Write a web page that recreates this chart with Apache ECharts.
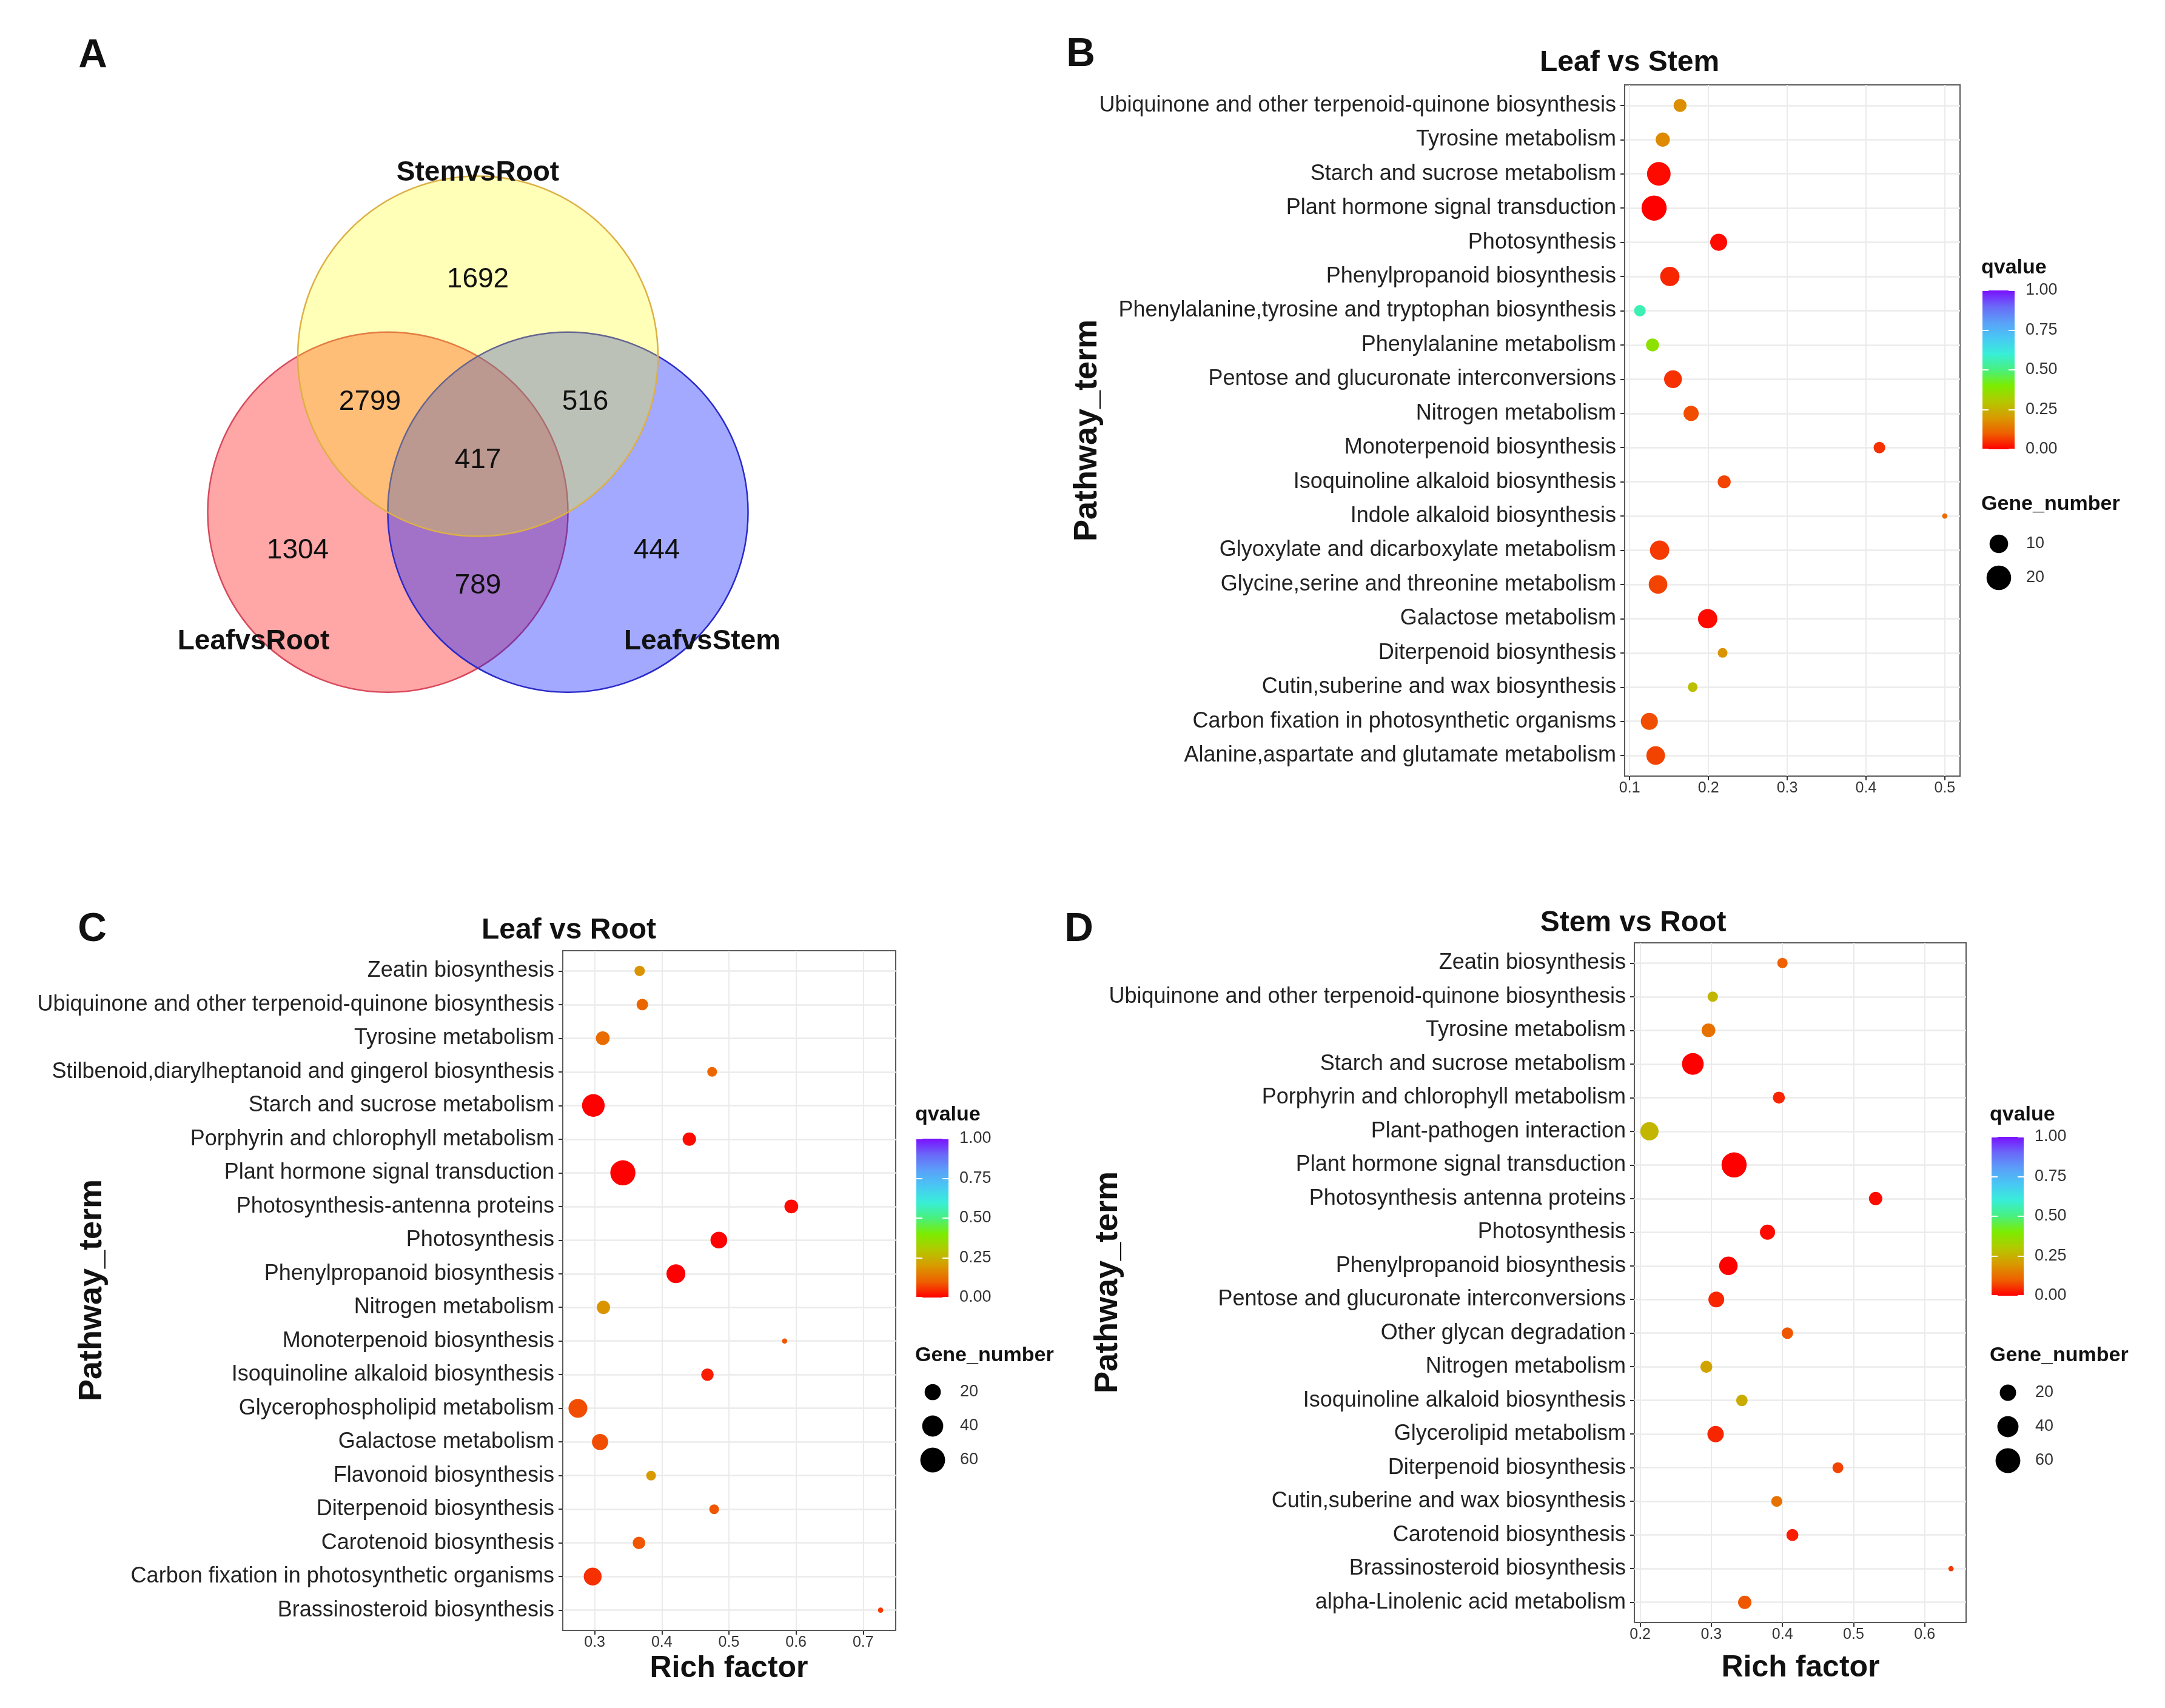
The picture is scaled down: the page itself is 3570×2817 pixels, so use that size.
<!DOCTYPE html>
<html><head><meta charset="utf-8">
<script src="https://cdn.jsdelivr.net/npm/echarts@6/dist/echarts.min.js"></script>
<style>html,body{margin:0;padding:0;background:#fff}#chart{width:3570px;height:2817px}</style>
</head><body><div id="chart"></div>
<script>
// ---------------- DATA ----------------
// Panel A: Venn diagram
const vennSets = ['LeafvsRoot', 'LeafvsStem', 'StemvsRoot'];
const vennRegions = ['LeafvsRoot only', 'LeafvsStem only', 'StemvsRoot only', 'LeafvsRoot&LeafvsStem', 'LeafvsRoot&StemvsRoot', 'LeafvsStem&StemvsRoot', 'all'];
const vennCounts = [1304, 444, 1692, 789, 2799, 516, 417];

// Panel B: Leaf vs Stem
const titleB = 'Leaf vs Stem';
const catsB = ['Ubiquinone and other terpenoid-quinone biosynthesis', 'Tyrosine metabolism', 'Starch and sucrose metabolism', 'Plant hormone signal transduction', 'Photosynthesis', 'Phenylpropanoid biosynthesis', 'Phenylalanine,tyrosine and tryptophan biosynthesis', 'Phenylalanine metabolism', 'Pentose and glucuronate interconversions', 'Nitrogen metabolism', 'Monoterpenoid biosynthesis', 'Isoquinoline alkaloid biosynthesis', 'Indole alkaloid biosynthesis', 'Glyoxylate and dicarboxylate metabolism', 'Glycine,serine and threonine metabolism', 'Galactose metabolism', 'Diterpenoid biosynthesis', 'Cutin,suberine and wax biosynthesis', 'Carbon fixation in photosynthetic organisms', 'Alanine,aspartate and glutamate metabolism'];
const richB = [0.164, 0.142, 0.137, 0.131, 0.213, 0.151, 0.113, 0.129, 0.155, 0.178, 0.417, 0.220, 0.500, 0.138, 0.136, 0.199, 0.218, 0.180, 0.125, 0.133];
const geneB = [4, 5, 18, 21, 8, 11, 3, 4, 9, 6, 3, 4, 1, 11, 10, 11, 2, 2, 8, 10];
const qB = [0.18, 0.17, 0.01, 0.0, 0.01, 0.04, 0.56, 0.37, 0.05, 0.08, 0.05, 0.07, 0.12, 0.06, 0.07, 0.01, 0.19, 0.28, 0.08, 0.07];
const ticksB = [0.1, 0.2, 0.3, 0.4, 0.5];
const sizeBreaksB = [10, 20];

// Panel C: Leaf vs Root
const titleC = 'Leaf vs Root';
const catsC = ['Zeatin biosynthesis', 'Ubiquinone and other terpenoid-quinone biosynthesis', 'Tyrosine metabolism', 'Stilbenoid,diarylheptanoid and gingerol biosynthesis', 'Starch and sucrose metabolism', 'Porphyrin and chlorophyll metabolism', 'Plant hormone signal transduction', 'Photosynthesis-antenna proteins', 'Photosynthesis', 'Phenylpropanoid biosynthesis', 'Nitrogen metabolism', 'Monoterpenoid biosynthesis', 'Isoquinoline alkaloid biosynthesis', 'Glycerophospholipid metabolism', 'Galactose metabolism', 'Flavonoid biosynthesis', 'Diterpenoid biosynthesis', 'Carotenoid biosynthesis', 'Carbon fixation in photosynthetic organisms', 'Brassinosteroid biosynthesis'];
const richC = [0.367, 0.371, 0.312, 0.475, 0.298, 0.441, 0.342, 0.593, 0.485, 0.421, 0.313, 0.583, 0.468, 0.275, 0.308, 0.384, 0.478, 0.366, 0.297, 0.726];
const geneC = [6, 8, 13, 5, 48, 12, 62, 13, 22, 30, 12, 2, 10, 30, 20, 5, 5, 10, 26, 2];
const qC = [0.19, 0.11, 0.12, 0.11, 0.0, 0.01, 0.0, 0.01, 0.0, 0.0, 0.19, 0.09, 0.03, 0.08, 0.08, 0.20, 0.09, 0.09, 0.05, 0.06];
const ticksC = [0.3, 0.4, 0.5, 0.6, 0.7];
const sizeBreaksC = [20, 40, 60];

// Panel D: Stem vs Root
const titleD = 'Stem vs Root';
const catsD = ['Zeatin biosynthesis', 'Ubiquinone and other terpenoid-quinone biosynthesis', 'Tyrosine metabolism', 'Starch and sucrose metabolism', 'Porphyrin and chlorophyll metabolism', 'Plant-pathogen interaction', 'Plant hormone signal transduction', 'Photosynthesis antenna proteins', 'Photosynthesis', 'Phenylpropanoid biosynthesis', 'Pentose and glucuronate interconversions', 'Other glycan degradation', 'Nitrogen metabolism', 'Isoquinoline alkaloid biosynthesis', 'Glycerolipid metabolism', 'Diterpenoid biosynthesis', 'Cutin,suberine and wax biosynthesis', 'Carotenoid biosynthesis', 'Brassinosteroid biosynthesis', 'alpha-Linolenic acid metabolism'];
const richD = [0.400, 0.302, 0.296, 0.274, 0.395, 0.213, 0.332, 0.531, 0.379, 0.324, 0.307, 0.407, 0.293, 0.343, 0.306, 0.478, 0.392, 0.414, 0.637, 0.347];
const geneD = [5, 5, 12, 43, 8, 27, 62, 11, 16, 28, 18, 7, 8, 7, 20, 6, 6, 8, 1, 11];
const qD = [0.10, 0.26, 0.13, 0.0, 0.04, 0.26, 0.0, 0.01, 0.01, 0.0, 0.04, 0.09, 0.22, 0.24, 0.04, 0.07, 0.13, 0.03, 0.06, 0.09];
const ticksD = [0.2, 0.3, 0.4, 0.5, 0.6];
const sizeBreaksD = [20, 40, 60];

const qTicks = [0, 0.25, 0.5, 0.75, 1];

// ---------------- STYLE / LAYOUT ----------------
const FONT = '"Liberation Sans", Arial, Helvetica, sans-serif';
const qColors = ['#FF0000', '#EE6000', '#D89A00', '#B4C800', '#7CEC00', '#48F07E', '#38EED8', '#48C8F4', '#5AA0F8', '#6A68F8', '#7A10FF'];

const panels = [
  { cats: catsB, rich: richB, gene: geneB, q: qB, ticks: ticksB, breaks: sizeBreaksB, title: titleB,
    grid: [2679, 140, 553, 1140], titlePos: [2687, 104], letter: ['B', 1782, 91], yTitle: [1793, 710], xTitle: null,
    cbar: [3269, 479], qTitle: [3267, 442], gTitle: [3267, 832], sizeTop: 869 },
  { cats: catsC, rich: richC, gene: geneC, q: qC, ticks: ticksC, breaks: sizeBreaksC, title: titleC,
    grid: [928, 1568, 549, 1121], titlePos: [938, 1535], letter: ['C', 152, 1534], yTitle: [152, 2128], xTitle: [1202, 2752],
    cbar: [1511, 1878], qTitle: [1509, 1839], gTitle: [1509, 2236], sizeTop: 2268 },
  { cats: catsD, rich: richD, gene: geneD, q: qD, ticks: ticksD, breaks: sizeBreaksD, title: titleD,
    grid: [2695, 1555, 547, 1121], titlePos: [2693, 1523], letter: ['D', 1779, 1534], yTitle: [1827, 2115], xTitle: [2969, 2751],
    cbar: [3284, 1875], qTitle: [3281, 1839], gTitle: [3281, 2236], sizeTop: 2269 }
];

function sizeScale(genes) {
  const gMin = Math.min(...genes), gMax = Math.max(...genes);
  return g => {
    const t = Math.max(0, Math.min(1.2, (g - gMin) / (gMax - gMin)));
    const s = 1 + 5 * Math.sqrt(t);
    return 2.3 * (2.845 * s + 0.945);
  };
}
function xExtent(vals) {
  const lo = Math.min(...vals), hi = Math.max(...vals), pad = (hi - lo) * 0.05;
  return [lo - pad, hi + pad];
}
const isTenth = v => Math.abs(v * 10 - Math.round(v * 10)) < 1e-6;

const grids = [], xAxes = [], yAxes = [], series = [], visualMaps = [], graphics = [];

const textEl = (text, x, y, size, weight, align, rot) => ({
  type: 'text', x: x, y: y, rotation: rot || 0, z: 100,
  style: { text: text, fontSize: size, fontWeight: weight || 'normal', fontFamily: FONT, fill: '#111',
           align: align || 'center', verticalAlign: 'middle' }
});

// Main plot grids (0..2)
panels.forEach((p, i) => {
  const n = p.cats.length;
  const idx = p.cats.map((_, k) => k);
  const ext = xExtent(p.rich);
  grids.push({ left: p.grid[0], top: p.grid[1], width: p.grid[2], height: p.grid[3], show: true,
    backgroundColor: '#fff', borderColor: '#5a5a5a', borderWidth: 2, containLabel: false });
  xAxes.push({ type: 'value', gridIndex: i, position: 'bottom', min: ext[0], max: ext[1], minInterval: 0.05, maxInterval: 0.05, splitNumber: 10,
    axisLine: { show: false, onZero: false },
    axisTick: { show: true, customValues: p.ticks, length: 7, lineStyle: { color: '#333', width: 2 } },
    axisLabel: { customValues: p.ticks, fontSize: 25, color: '#333', margin: 8, fontFamily: FONT,
      formatter: v => isTenth(v) ? v.toFixed(1) : '' },
    splitLine: { show: true, lineStyle: { color: '#EBEBEB', width: 2 } } });
  yAxes.push({ type: 'value', gridIndex: i, position: 'left', inverse: true, min: -0.6, max: n - 0.4, minInterval: 1, maxInterval: 1, splitNumber: n,
    axisLine: { show: false, onZero: false },
    axisTick: { show: true, customValues: idx, length: 7, lineStyle: { color: '#333', width: 2 } },
    axisLabel: { customValues: idx, fontSize: 36, color: '#222', margin: 14, fontFamily: FONT,
      formatter: v => (Math.abs(v - Math.round(v)) < 1e-6 && p.cats[Math.round(v)]) ? p.cats[Math.round(v)] : '' },
    splitLine: { show: true, lineStyle: { color: '#EBEBEB', width: 2.5 } } });
  const sz = sizeScale(p.gene);
  series.push({ type: 'scatter', xAxisIndex: i, yAxisIndex: i, z: 5,
    data: p.rich.map((x, k) => [x, k, p.gene[k], p.q[k]]),
    symbolSize: v => sz(v[2]), itemStyle: { opacity: 1 } });
  visualMaps.push({ type: 'continuous', show: false, seriesIndex: i, dimension: 3, min: 0, max: 1,
    inRange: { color: qColors } });
  // texts
  graphics.push(textEl(p.title, p.titlePos[0], p.titlePos[1], 48, 'bold'));
  graphics.push(textEl(p.letter[0], p.letter[1], p.letter[2], 66, 'bold'));
  graphics.push(textEl('Pathway_term', p.yTitle[0], p.yTitle[1], 54, 'bold', 'center', Math.PI / 2));
  if (p.xTitle) graphics.push(textEl('Rich factor', p.xTitle[0], p.xTitle[1], 50, 'bold'));
  graphics.push(textEl('qvalue', p.qTitle[0], p.qTitle[1], 34, 'bold', 'left'));
  graphics.push(textEl('Gene_number', p.gTitle[0], p.gTitle[1], 34, 'bold', 'left'));
});

// Colour bars (grids 3..5)
panels.forEach((p, i) => {
  const gi = 3 + i;
  grids.push({ left: p.cbar[0], top: p.cbar[1], width: 53, height: 262, show: true, borderWidth: 0,
    backgroundColor: { type: 'linear', x: 0, y: 1, x2: 0, y2: 0,
      colorStops: qColors.map((c, k) => ({ offset: k / (qColors.length - 1), color: c })) } });
  xAxes.push({ type: 'value', gridIndex: gi, min: 0, max: 1, show: false });
});
panels.forEach((p, i) => {
  const gi = 3 + i;
  yAxes.push({ type: 'value', gridIndex: gi, position: 'right', min: 0, max: 1, interval: 0.25,
    axisLine: { show: false, onZero: false }, splitLine: { show: false },
    axisTick: { show: true, inside: true, length: 10, lineStyle: { color: '#fff', width: 2 } },
    axisLabel: { customValues: qTicks, fontSize: 27, color: '#333', margin: 18, fontFamily: FONT, formatter: v => v.toFixed(2) } });
});
panels.forEach((p, i) => {
  const gi = 3 + i;
  yAxes.push({ type: 'value', gridIndex: gi, position: 'left', min: 0, max: 1, interval: 0.25,
    axisLine: { show: false, onZero: false }, splitLine: { show: false }, axisLabel: { show: false },
    axisTick: { show: true, inside: true, length: 10, lineStyle: { color: '#fff', width: 2 } } });
});

// Size legends (grids 6..8)
panels.forEach((p, i) => {
  const gi = 6 + i;
  grids.push({ left: p.cbar[0], top: p.sizeTop, width: 54, height: 56 * p.breaks.length, show: false });
  xAxes.push({ type: 'value', gridIndex: gi, min: 0, max: 1, show: false });
});
panels.forEach((p, i) => {
  const gi = 6 + i;
  yAxes.push({ type: 'category', gridIndex: gi, position: 'right', inverse: true, data: p.breaks.map(String),
    axisLine: { show: false, onZero: false }, axisTick: { show: false }, splitLine: { show: false },
    axisLabel: { fontSize: 27, color: '#333', margin: 18, fontFamily: FONT } });
  const sz = sizeScale(p.gene);
  series.push({ type: 'scatter', xAxisIndex: gi, yAxisIndex: 9 + i, z: 5,
    data: p.breaks.map((g, k) => [0.5, k, g]), symbolSize: v => sz(v[2]),
    itemStyle: { color: '#000', opacity: 1 } });
});

// Venn diagram (panel A)
const vennC = [788, 759], vennR = 297, vennSide = 297;
const vennCenters = [
  [vennC[0] - vennSide / 2, vennC[1] + vennSide / (2 * Math.sqrt(3))],  // LeafvsRoot
  [vennC[0] + vennSide / 2, vennC[1] + vennSide / (2 * Math.sqrt(3))],  // LeafvsStem
  [vennC[0], vennC[1] - vennSide / Math.sqrt(3)]                         // StemvsRoot
];
const vennFill = ['rgba(255,0,0,0.35)', 'rgba(10,30,255,0.38)', 'rgba(255,255,0,0.28)'];
const vennStroke = ['#D8485C', '#2A2AC8', '#DDB044'];
vennSets.forEach((s, i) => {
  graphics.push({ type: 'circle', z: 10, shape: { cx: vennCenters[i][0], cy: vennCenters[i][1], r: vennR },
    style: { fill: vennFill[i], stroke: vennStroke[i], lineWidth: 2.5 } });
});
const vennLabelOffsets = [[-297, 149], [295, 149], [0, -298], [0, 207], [-178, -96], [177, -96], [0, 0]];
vennCounts.forEach((c, i) => {
  graphics.push(textEl(String(c), vennC[0] + vennLabelOffsets[i][0], vennC[1] + vennLabelOffsets[i][1], 46, 'normal'));
});
const vennSetOffsets = [[-370, 299], [370, 299], [0, -474]];
vennSets.forEach((s, i) => {
  graphics.push(textEl(s, vennC[0] + vennSetOffsets[i][0], vennC[1] + vennSetOffsets[i][1], 46, 'bold'));
});
graphics.push(textEl('A', 153, 93, 66, 'bold'));

const option = {
  backgroundColor: '#fff',
  animation: false,
  textStyle: { fontFamily: FONT },
  grid: grids, xAxis: xAxes, yAxis: yAxes, series: series, visualMap: visualMaps,
  graphic: { elements: graphics }
};
const chart = echarts.init(document.getElementById('chart'), null, { renderer: 'canvas', width: 3570, height: 2817 });
chart.setOption(option);
</script>
</body></html>
